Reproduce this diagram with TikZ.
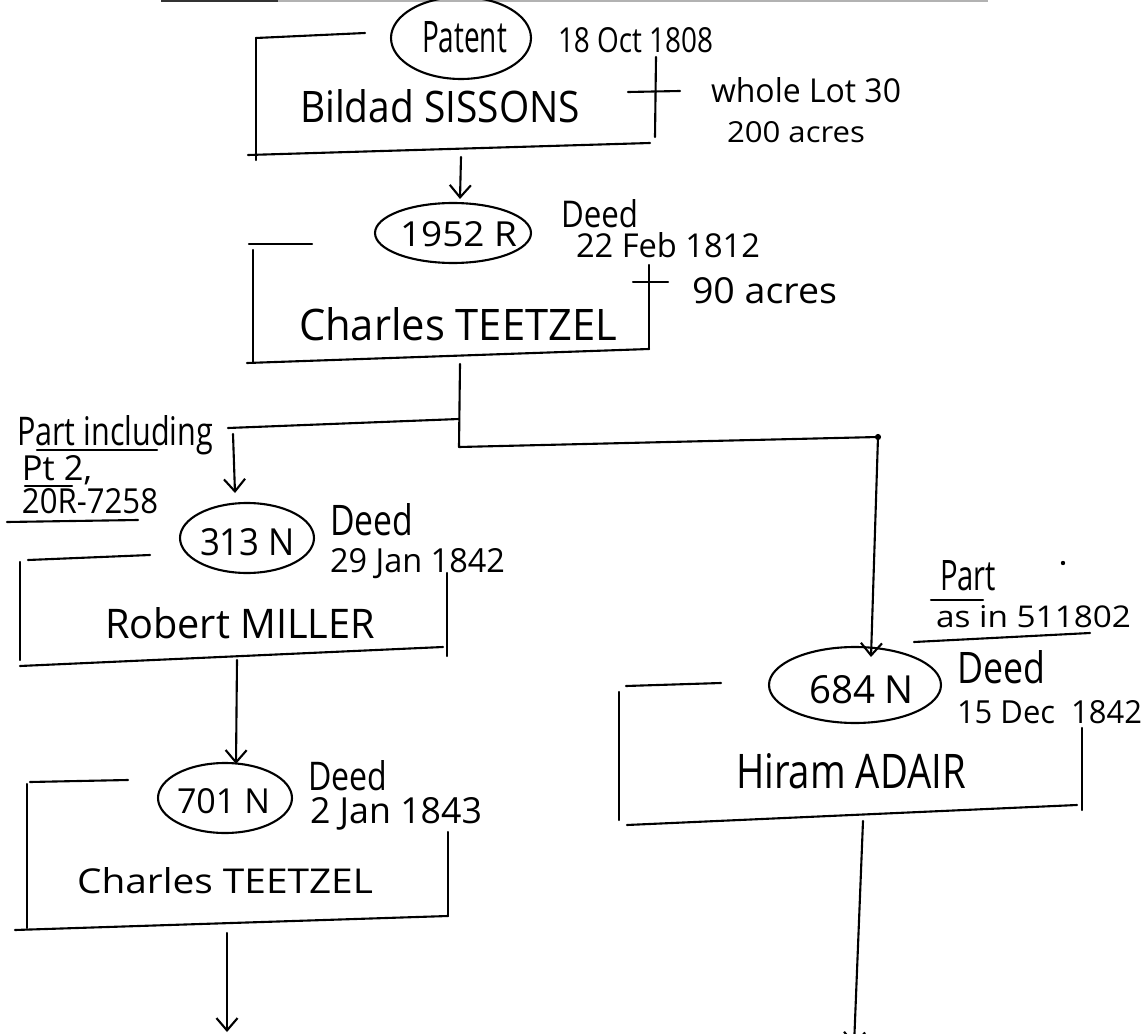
\documentclass[tikz,border=0pt]{standalone}
\usepackage{graphicx}
\usepackage{fontspec}
\setmainfont{Open Sans}
\usetikzlibrary{shapes.geometric,arrows.meta}
\newlength\pxu \setlength\pxu{0.02cm}
\newcommand\hw[3]{\resizebox{#1\pxu}{#2\pxu}{#3}}
\tikzset{
  ink/.style={line width=1.2pt, line cap=round, line join=round},
  oval/.style={draw, ellipse, inner sep=0pt, ink},
  lbl/.style={inner sep=0pt, outer sep=0pt, anchor=base west},
  arr/.style={ink, -{Straight Barb[length=7pt,width=12pt]}},
  dotm/.style={circle, fill, inner sep=0pt, minimum size=3.5pt}
}
\begin{document}
\begin{tikzpicture}[x=0.02cm,y=-0.02cm]
\fill[white] (0,0) rectangle (1147,1034);
\useasboundingbox (0,0) rectangle (1147,1034);

% cut-off line at the top edge
\draw[gray!60, line width=1.4pt] (161,1) -- (988,1);
\draw[black!80, line width=1.4pt] (161,1) -- (278,1);

% ---------- Box 1 : Bildad SISSONS
\draw[ink] (256,38) -- (365,33);
\draw[ink] (256,38) -- (256,160);
\draw[ink] (248,155) -- (650,143);
\draw[ink] (656,57) -- (655,137);
\draw[ink] (628,92) -- (680,91);
\node[oval, minimum width=2.8cm, minimum height=1.64cm] (e1) at (461,38) {};
\node[lbl] (t1) at (422,53) {\hw{85}{31}{Patent}};
\node[lbl] (d1) at (558,52) {\hw{155}{25}{18 Oct 1808}};
\node[lbl] (n1) at (300,123) {\hw{280}{33}{Bildad SISSONS}};
\node[lbl] (w1) at (711,103) {\hw{190}{25}{whole Lot 30}};
\node[lbl] (s1) at (727,143) {\hw{138}{21}{200 acres}};
\coordinate (b1) at (461,157);

% ---------- Box 2 : Charles TEETZEL
\node[oval, minimum width=3.12cm, minimum height=1.2cm] (e2) at (453,233) {};
\coordinate (a2) at (460,199);
\draw[arr] (b1) -- (a2);
\draw[ink] (249,244) -- (312,244);
\draw[ink] (253,250) -- (253,363);
\draw[ink] (247,363) -- (649,349);
\draw[ink] (649,265) -- (649,349);
\draw[ink] (633,282) -- (668,282);
\node[lbl] (t2) at (400,247) {\hw{117}{25}{1952 R}};
\node[lbl] (k2) at (561,227) {\hw{77}{28}{Deed}};
\node[lbl] (d2) at (576,257) {\hw{184}{25}{22 Feb 1812}};
\node[lbl] (s2) at (692,303) {\hw{145}{26}{90 acres}};
\node[lbl] (n2) at (299,340) {\hw{318}{33}{Charles TEETZEL}};
\coordinate (b2) at (460,364);

% ---------- split
\coordinate (j1) at (459,447);
\coordinate (j2) at (878,437);
\coordinate (j3) at (459,419);
\coordinate (j4) at (228,428);
\draw[ink] (b2) -- (j1) -- (j2);
\node[dotm] (jd) at (j2) {};
\draw[ink] (j3) -- (j4);

% ---------- Box 3 : Robert MILLER
\node[lbl] (p3) at (17,445) {\hw{196}{30}{Part including}};
\node[lbl] (q3) at (22,480) {\hw{70}{25}{Pt 2,}};
\node[lbl] (r3) at (22,513) {\hw{136}{25}{20R-7258}};
\draw[ink] (37,450) -- (157,450);
\draw[ink] (25,486) -- (72,486);
\draw[ink] (7,522) -- (138,520);
\coordinate (s3) at (233,434);
\coordinate (a3) at (235,493);
\draw[arr] (s3) -- (a3);
\node[oval, minimum width=2.68cm, minimum height=1.4cm] (e3) at (247,538) {};
\node[lbl] (t3) at (200,555) {\hw{95}{27}{313 N}};
\node[lbl] (k3) at (330,535) {\hw{83}{32}{Deed}};
\node[lbl] (d3) at (330,572) {\hw{175}{24}{29 Jan 1842}};
\draw[ink] (28,560) -- (150,555);
\draw[ink] (20,562) -- (20,660);
\draw[ink] (20,666) -- (443,647);
\draw[ink] (447,573) -- (447,656);
\node[lbl] (n3) at (105,638) {\hw{270}{31}{Robert MILLER}};
\coordinate (b3) at (237,660);

% ---------- Box 4 : Charles TEETZEL
\coordinate (a4) at (236,764);
\draw[arr] (b3) -- (a4);
\node[oval, minimum width=2.68cm, minimum height=1.4cm] (e4) at (225,798) {};
\node[lbl] (t4) at (177,813) {\hw{93}{25}{701 N}};
\node[lbl] (k4) at (308,790) {\hw{79}{30}{Deed}};
\node[lbl] (d4) at (310,823) {\hw{172}{26}{2 Jan 1843}};
\draw[ink] (30,782) -- (128,780);
\draw[ink] (27,784) -- (27,928);
\draw[ink] (15,930) -- (448,916);
\draw[ink] (448,832) -- (448,916);
\node[lbl] (n4) at (77,893) {\hw{296}{26}{Charles TEETZEL}};
\coordinate (b4) at (227,933);
\coordinate (a5) at (227,1032);
\draw[arr] (b4) -- (a5);

% ---------- Box 5 : Hiram ADAIR
\coordinate (a6) at (871,657);
\draw[arr] (j2) -- (a6);
\node[oval, minimum width=3.44cm, minimum height=1.52cm] (e5) at (855,685) {};
\node[lbl] (t5) at (809,703) {\hw{105}{28}{684 N}};
\node[lbl] (p5) at (940,590) {\hw{56}{30}{Part}};
\draw[ink] (931,600) -- (983,600);
\node[lbl] (q5) at (936,627) {\hw{195}{22}{as in 511802}};
\draw[ink] (914,642) -- (1090,633);
\node[dotm, minimum size=2.5pt] (dd) at (1063,563) {};
\node[lbl] (k5) at (957,683) {\hw{88}{33}{Deed}};
\node[lbl] (d5) at (957,723) {\hw{185}{23}{15 Dec \ 1842}};
\draw[ink] (626,686) -- (721,683);
\draw[ink] (619,692) -- (619,820);
\draw[ink] (627,825) -- (1077,805);
\draw[ink] (1082,728) -- (1082,810);
\node[lbl] (n5) at (736,788) {\hw{230}{35}{Hiram ADAIR}};
\coordinate (b5) at (863,821);
\coordinate (a7) at (854,1046);
\draw[arr] (b5) -- (a7);
\end{tikzpicture}
\end{document}
